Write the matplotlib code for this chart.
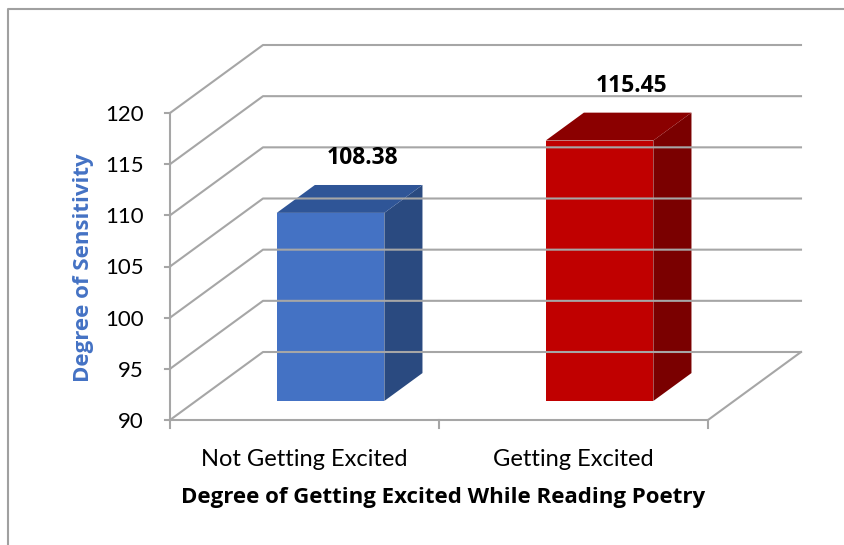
import matplotlib.pyplot as plt
from matplotlib.patches import Polygon
import matplotlib.lines as mlines

# data
categories = ['Not Getting Excited', 'Getting Excited']
values = [108.38, 115.45]
value_labels = ['108.38', '115.45']
yticks = [90, 95, 100, 105, 110, 115, 120]

face_cols = ['#4472c4', '#c00000']
top_cols = ['#2f5597', '#8b0000']
side_cols = ['#2a4a80', '#7a0000']
grid_col = '#a6a6a6'
FONT = 'Lato'
BFONT = 'Open Sans'

W, H = 844, 545
fig = plt.figure(figsize=(W / 100, H / 100), dpi=100)

# front plane of the plot area, in pixels (top-down image coords)
x0, x1 = 170, 708
ytop, ybot = 113, 420
ax = fig.add_axes([x0 / W, (H - ybot) / H, (x1 - x0) / W, (ybot - ytop) / H])
ax.set_xlim(-0.5, len(categories) - 0.5)
ax.set_ylim(yticks[0], yticks[-1])
ax.axis('off')

# depth offset of the back wall, in data units
px_per_cat = (x1 - x0) / len(categories)
px_per_val = (ybot - ytop) / (yticks[-1] - yticks[0])
DX = 93 / px_per_cat
DY = 68 / px_per_val
xa, xb = -0.5, len(categories) - 0.5
base = yticks[0]


def line(xs, ys, **kw):
    ax.add_line(mlines.Line2D(xs, ys, color=grid_col, lw=1.5, clip_on=False, **kw))


# walls and grid
for t in yticks:
    line([xa, xa + DX, xb + DX], [t, t + DY, t + DY])
line([xa, xb, xb + DX], [base, base, base + DY])
line([xa, xa], [base, yticks[-1]])
# ticks
for t in yticks:
    ax.plot([xa - 0.018, xa], [t, t], color=grid_col, lw=1.5, clip_on=False)
for k in range(len(categories) + 1):
    ax.plot([xa + k, xa + k], [base, base - 0.75], color=grid_col, lw=1.5, clip_on=False)

# 3d bars
d0, d1 = 0.28, 0.69
hw = 0.2
for i, v in enumerate(values):
    fx0 = i - hw + d0 * DX
    fx1 = i + hw + d0 * DX
    fy0 = base + d0 * DY
    fy1 = v + d0 * DY
    ox = (d1 - d0) * DX
    oy = (d1 - d0) * DY
    front = [(fx0, fy0), (fx1, fy0), (fx1, fy1), (fx0, fy1)]
    side = [(fx1, fy0), (fx1 + ox, fy0 + oy), (fx1 + ox, fy1 + oy), (fx1, fy1)]
    top = [(fx0, fy1), (fx1, fy1), (fx1 + ox, fy1 + oy), (fx0 + ox, fy1 + oy)]
    ax.add_patch(Polygon(side, closed=True, fc=side_cols[i], ec='none', clip_on=False))
    ax.add_patch(Polygon(top, closed=True, fc=top_cols[i], ec='none', clip_on=False))
    ax.add_patch(Polygon(front, closed=True, fc=face_cols[i], ec='none', clip_on=False))
    ax.annotate(value_labels[i], (i + 0.62 * DX, v + d1 * DY), xytext=(0, 27),
                textcoords='offset pixels', ha='center', va='center',
                fontsize=16.5, fontweight='bold', family=BFONT, annotation_clip=False)

# tick labels
for t in yticks:
    ax.annotate(str(t), (xa, t), xytext=(-26, -2), textcoords='offset pixels',
                ha='right', va='center', fontsize=16, family=FONT,
                annotation_clip=False)
for i, c in enumerate(categories):
    ax.annotate(c, (i, base), xytext=(0, -39), textcoords='offset pixels',
                ha='center', va='center', fontsize=17, family=FONT,
                annotation_clip=False)

fig.text(84 / W, 1 - 268 / H, 'Degree of Sensitivity', rotation=90, ha='center',
         va='center', fontsize=16, fontweight='bold', color='#4472c4', family=BFONT)
fig.text(443 / W, 1 - 497 / H, 'Degree of Getting Excited While Reading Poetry',
         ha='center', va='center', fontsize=16, fontweight='bold', family=BFONT)

# chart border
fig.add_artist(mlines.Line2D([8 / W, 8 / W, 1], [0, 1 - 9 / H, 1 - 9 / H],
                             color='#a0a0a0', lw=1.5, transform=fig.transFigure))

fig.savefig('out.png', dpi=100)
